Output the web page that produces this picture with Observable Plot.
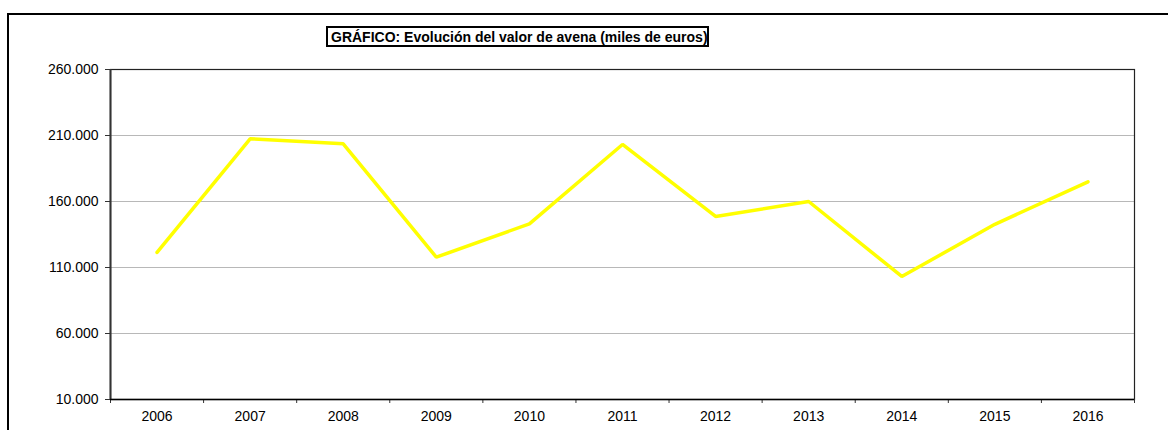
<!DOCTYPE html>
<html>
<head>
<meta charset="utf-8">
<script src="https://cdn.jsdelivr.net/npm/d3@7"></script>
<script src="https://cdn.jsdelivr.net/npm/@observablehq/plot@0.6"></script>
<style>
  html, body { margin: 0; padding: 0; background: #fff; overflow: hidden; }
  #wrap { position: relative; width: 1168px; height: 430px; }
  #chart { position: absolute; left: 0; top: 0; }
  #frame { position: absolute; left: 7px; top: 13px; width: 1300px; height: 600px;
           border-left: 2.5px solid #000; border-top: 2.5px solid #000; pointer-events: none; }
  #title { position: absolute; left: 326px; top: 26px; width: 383px; box-sizing: border-box;
           border: 2px solid #000; padding: 1px 0 0 3px; line-height: 16px; height: 21px;
           font: bold 14px "Liberation Sans", Arial, sans-serif; color: #000; background: #fff; white-space: nowrap; }
</style>
</head>
<body>
<div id="wrap">
  <div id="chart"></div>
  <div id="frame"></div>
  <div id="title">GRÁFICO: Evolución del valor de avena (miles de euros)</div>
</div>
<script>
const years = [2006, 2007, 2008, 2009, 2010, 2011, 2012, 2013, 2014, 2015, 2016];
const values = [121400, 207500, 203700, 117800, 143100, 203200, 148700, 160000, 103200, 142700, 174900];
const yTicks = [10000, 60000, 110000, 160000, 210000, 260000];
const gridValues = [60000, 110000, 160000, 210000];

const data = years.map((year, i) => ({year, value: values[i]}));
const boundaries = [years[0] - 0.5, ...years.map(y => y + 0.5)];

const esLocale = d3.formatLocale({decimal: ",", thousands: ".", grouping: [3], currency: ["", " €"]});
const fmt = esLocale.format(",.0f");

const chart = Plot.plot({
  width: 1168,
  height: 430,
  marginLeft: 110,
  marginRight: 34,
  marginTop: 69,
  marginBottom: 31,
  style: {fontFamily: "'Liberation Sans', Arial, sans-serif", fontSize: "14px", color: "#000", background: "transparent"},
  x: {type: "linear", domain: [years[0] - 0.5, years[years.length - 1] + 0.5]},
  y: {domain: [yTicks[0], yTicks[yTicks.length - 1]]},
  marks: [
    Plot.ruleY(gridValues, {stroke: "#b8b8b8", strokeWidth: 1.2}),
    Plot.frame({stroke: "#222", strokeWidth: 1.2}),
    Plot.axisY({ticks: yTicks, tickFormat: fmt, tickSize: 5, tickPadding: 7, label: null, stroke: "#333", fill: "#000"}),
    Plot.axisX({ticks: years, tickFormat: d => String(d), tickSize: 0, tickPadding: 12, label: null, fill: "#000"}),
    Plot.axisX({ticks: boundaries, tickFormat: () => "", tickSize: 4, label: null, stroke: "#333"}),
    Plot.ruleX([boundaries[0]], {stroke: "#333", strokeWidth: 2}),
    Plot.ruleY([yTicks[0]], {stroke: "#000", strokeWidth: 1.5}),
    Plot.line(data, {x: "year", y: "value", stroke: "#ffff00", strokeWidth: 3.5, strokeLinecap: "round", strokeLinejoin: "miter"})
  ]
});
document.getElementById("chart").appendChild(chart);
</script>
</body>
</html>
